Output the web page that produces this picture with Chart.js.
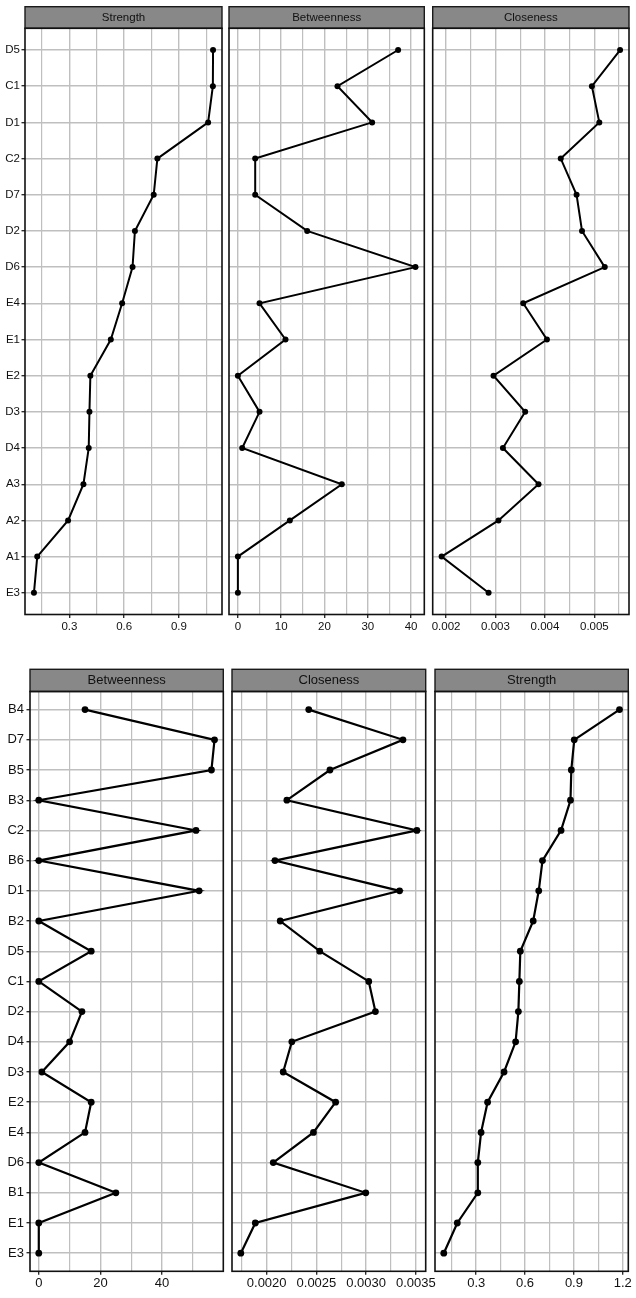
<!DOCTYPE html>
<html><head><meta charset="utf-8">
<script src="https://cdn.jsdelivr.net/npm/chart.js@4.4.0/dist/chart.umd.min.js"></script>
<style>
html,body{margin:0;padding:0;background:#fff;}
body{width:636px;height:1298px;position:relative;overflow:hidden;}
.box{position:absolute;}
</style></head><body>
<div class="box" id="p1"><canvas></canvas></div>
<div class="box" id="p2"><canvas></canvas></div>
<div class="box" id="p3"><canvas></canvas></div>
<div class="box" id="p4"><canvas></canvas></div>
<div class="box" id="p5"><canvas></canvas></div>
<div class="box" id="p6"><canvas></canvas></div>
<script>
// ---------- DATA ----------
const topCategories = ['D5','C1','D1','C2','D7','D2','D6','E4','E1','E2','D3','D4','A3','A2','A1','E3'];
const topStrength = [1.087,1.086,1.060,0.782,0.762,0.659,0.646,0.589,0.527,0.415,0.410,0.406,0.377,0.293,0.124,0.106];
const topBetweenness = [37,23,31,4,4,16,41,5,11,0,5,1,24,12,0,0];
const topCloseness = [0.00552,0.00495,0.00510,0.00432,0.00464,0.00475,0.00521,0.00356,0.00404,0.00296,0.00360,0.00315,0.00387,0.00306,0.00191,0.00286];

const bottomCategories = ['B4','D7','B5','B3','C2','B6','D1','B2','D5','C1','D2','D4','D3','E2','E4','D6','B1','E1','E3'];
const bottomBetweenness = [15,57,56,0,51,0,52,0,17,0,14,10,1,17,15,0,25,0,0];
const bottomCloseness = [0.002423,0.00337,0.002636,0.002203,0.00351,0.002083,0.003336,0.002136,0.002533,0.003026,0.003093,0.002253,0.002166,0.002693,0.00247,0.002066,0.002996,0.001886,0.00174];
const bottomStrength = [1.180,0.902,0.884,0.879,0.821,0.707,0.684,0.650,0.571,0.565,0.559,0.542,0.471,0.370,0.330,0.310,0.310,0.184,0.101];

// tick values and labels
const topStrengthTicks = [0.3,0.6,0.9];
const topStrengthLabels = ['0.3','0.6','0.9'];
const topBetweennessTicks = [0,10,20,30,40];
const topBetweennessLabels = ['0','10','20','30','40'];
const topClosenessTicks = [0.002,0.003,0.004,0.005];
const topClosenessLabels = ['0.002','0.003','0.004','0.005'];
const bottomBetweennessTicks = [0,20,40];
const bottomBetweennessLabels = ['0','20','40'];
const bottomClosenessTicks = [0.0020,0.0025,0.0030,0.0035];
const bottomClosenessLabels = ['0.0020','0.0025','0.0030','0.0035'];
const bottomStrengthTicks = [0.3,0.6,0.9,1.2];
const bottomStrengthLabels = ['0.3','0.6','0.9','1.2'];

// ---------- RENDER ----------
const FAMILY = '"Liberation Sans", Arial, Helvetica, sans-serif';
const GRID = '#bfbfbf';
const TEXT = '#111';

const panelDeco = {
  id: 'panelDeco',
  afterDraw(chart, args, o) {
    const ctx = chart.ctx, a = chart.chartArea;
    ctx.save();
    const h = a.top - o.stripTop;
    ctx.fillStyle = '#888888';
    ctx.fillRect(a.left, o.stripTop, a.right - a.left, h);
    ctx.strokeStyle = '#1a1a1a';
    ctx.lineWidth = 1.4;
    ctx.strokeRect(a.left, o.stripTop, a.right - a.left, h);
    ctx.fillStyle = '#111';
    ctx.font = o.stripFont + 'px ' + FAMILY;
    ctx.textAlign = 'center';
    ctx.textBaseline = 'middle';
    ctx.fillText(o.title, (a.left + a.right) / 2, o.stripTop + h / 2 + 0.5);
    ctx.lineWidth = 1.6;
    ctx.strokeStyle = '#111';
    ctx.strokeRect(a.left, a.top, a.right - a.left, a.bottom - a.top);
    ctx.restore();
  }
};

function makePanel(p) {
  const box = document.getElementById(p.id);
  Object.assign(box.style, {left: p.left + 'px', top: p.top + 'px', width: p.width + 'px', height: p.height + 'px'});
  const lo = Math.min(...p.values), hi = Math.max(...p.values), ex = (hi - lo) * 0.05;
  const xmin = lo - ex, xmax = hi + ex;
  const half = (p.majors[1] - p.majors[0]) / 2;
  const xticks = [];
  p.majors.forEach((v, i) => { if (v >= xmin && v <= xmax) xticks.push({value: v, isMajor: true, lab: p.labels[i]}); });
  for (let i = -1; i < p.majors.length; i++) {
    const v = p.majors[0] + (2 * i + 1) * half;
    if (v >= xmin && v <= xmax) xticks.push({value: v, isMajor: false, lab: ''});
  }
  xticks.sort((a, b) => a.value - b.value);
  const n = p.cats.length;
  new Chart(box.querySelector('canvas'), {
    type: 'scatter',
    data: {datasets: [{
      data: p.values.map((v, i) => ({x: v, y: i})),
      showLine: true, borderColor: '#000', backgroundColor: '#000',
      borderWidth: p.lw, pointRadius: p.r, pointHoverRadius: p.r, pointBorderWidth: 0, tension: 0
    }]},
    options: {
      animation: false, responsive: true, maintainAspectRatio: false, events: [],
      layout: {padding: {left: p.padL, right: p.padR, top: p.padT, bottom: 0}},
      plugins: {legend: {display: false}, tooltip: {enabled: false},
        panelDeco: {title: p.title, stripTop: p.stripTop, stripFont: p.stripFont}},
      scales: {
        x: {
          type: 'linear', position: 'bottom', min: xmin, max: xmax, bounds: 'data',
          afterBuildTicks: s => { s.ticks = xticks.map(t => Object.assign({}, t)); },
          afterFit: s => { s.height = p.xAxisH; },
          ticks: {autoSkip: false, maxRotation: 0, minRotation: 0, padding: p.xPad, color: TEXT,
            font: {family: FAMILY, size: p.axisFont},
            callback: (v, i, ts) => ts[i].isMajor ? ts[i].lab : ''},
          grid: {color: GRID, lineWidth: c => (c.tick && c.tick.isMajor) ? 1.4 : 1.2,
            drawTicks: true, tickLength: p.tickLen, tickWidth: 1.3,
            tickColor: c => (c.tick && c.tick.isMajor) ? '#222' : 'rgba(0,0,0,0)'},
          border: {display: false}
        },
        y: {
          type: 'linear', reverse: true, min: -0.6, max: n - 0.4, bounds: 'data',
          afterBuildTicks: s => { s.ticks = p.cats.map((c, i) => ({value: i})); },
          afterFit: s => { s.width = p.yAxisW; },
          ticks: {display: p.showY, autoSkip: false, padding: p.yPad, color: TEXT,
            font: {family: FAMILY, size: p.axisFont},
            callback: v => p.cats[Math.round(v)]},
          grid: {color: GRID, lineWidth: 1.4, drawTicks: p.showY, tickLength: p.tickLen, tickWidth: 1.3, tickColor: '#222'},
          border: {display: false}
        }
      }
    },
    plugins: [panelDeco]
  });
}

const topCommon = {top: 0, height: 640, padT: 28.3, xAxisH: 25.5, stripTop: 6.7, stripFont: 11.5,
  axisFont: 11.5, tickLen: 3.5, xPad: 2, yPad: 1.5, r: 3, lw: 2, cats: topCategories};
makePanel(Object.assign({}, topCommon, {id: 'p1', left: 0, width: 250, padL: 0, yAxisW: 25, padR: 28, showY: true,
  title: 'Strength', values: topStrength, majors: topStrengthTicks, labels: topStrengthLabels}));
makePanel(Object.assign({}, topCommon, {id: 'p2', left: 205, width: 245, padL: 24, yAxisW: 0, padR: 25.7, showY: false,
  title: 'Betweenness', values: topBetweenness, majors: topBetweennessTicks, labels: topBetweennessLabels}));
makePanel(Object.assign({}, topCommon, {id: 'p3', left: 405, width: 231, padL: 27.7, yAxisW: 0, padR: 7, showY: false,
  title: 'Closeness', values: topCloseness, majors: topClosenessTicks, labels: topClosenessLabels}));

const botCommon = {top: 645, height: 653, padT: 46.5, xAxisH: 26.7, stripTop: 24.3, stripFont: 13,
  axisFont: 13, tickLen: 3.5, xPad: 1, yPad: 2.5, r: 3.4, lw: 2.2, cats: bottomCategories};
makePanel(Object.assign({}, botCommon, {id: 'p4', left: 0, width: 250, padL: 0, yAxisW: 30, padR: 26.7, showY: true,
  title: 'Betweenness', values: bottomBetweenness, majors: bottomBetweennessTicks, labels: bottomBetweennessLabels}));
makePanel(Object.assign({}, botCommon, {id: 'p5', left: 205, width: 250, padL: 27, yAxisW: 0, padR: 29.3, showY: false,
  title: 'Closeness', values: bottomCloseness, majors: bottomClosenessTicks, labels: bottomClosenessLabels}));
makePanel(Object.assign({}, botCommon, {id: 'p6', left: 410, width: 226, padL: 25, yAxisW: 0, padR: 7.7, showY: false,
  title: 'Strength', values: bottomStrength, majors: bottomStrengthTicks, labels: bottomStrengthLabels}));
</script>
</body></html>
